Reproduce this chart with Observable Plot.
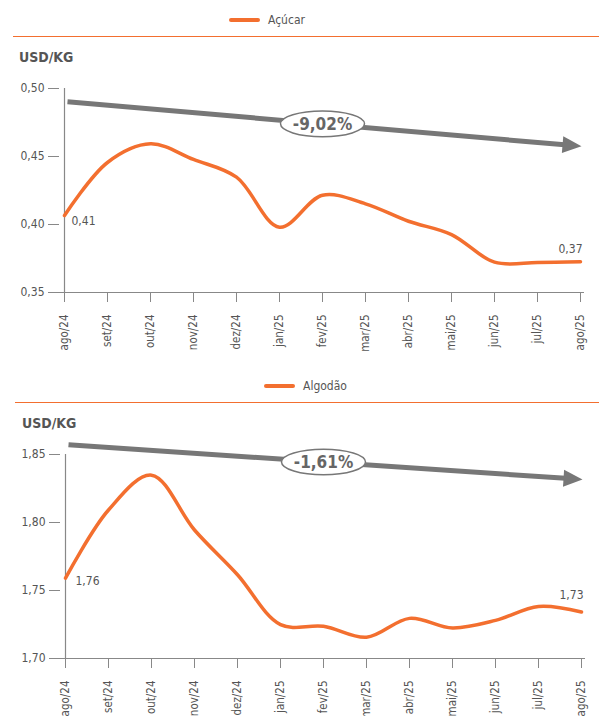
<!DOCTYPE html>
<html><head><meta charset="utf-8">
<script src="https://cdn.jsdelivr.net/npm/d3@7"></script>
<script src="https://cdn.jsdelivr.net/npm/@observablehq/plot@0.6"></script>
<style>
body{margin:0;background:#fff;font-family:"Liberation Sans Narrow","DejaVu Sans Condensed",Roboto,sans-serif;}
.block{position:relative;width:599px;height:366px;}
.legend{position:absolute;top:13px;display:flex;align-items:center;font-size:12px;color:#555;line-height:14px;}
.swatch{width:31px;height:4px;border-radius:2px;background:#F36F2F;margin-right:8px;}
.rule{position:absolute;top:35.5px;right:0;height:1.5px;background:#F36F2F;}
.unit{position:absolute;top:49px;font-size:14px;font-weight:bold;color:#555;line-height:16px;}
.plot{position:absolute;top:75px;left:0;}
</style></head><body>
<div id="root"></div>
<script>
const months = ["ago/24","set/24","out/24","nov/24","dez/24","jan/25","fev/25","mar/25","abr/25","mai/25","jun/25","jul/25","ago/25"];
const acucar = [0.4066,0.4456,0.4593,0.4478,0.4348,0.3980,0.4215,0.4152,0.4024,0.3926,0.3723,0.3721,0.3726];
const algodao = [1.7591,1.8092,1.8348,1.7945,1.7616,1.7249,1.7237,1.7156,1.7295,1.7225,1.7280,1.7383,1.7342];
const yTicksAcucar = [0.35,0.40,0.45,0.50];
const yTicksAlgodao = [1.70,1.75,1.80,1.85];
const trendAcucar = [0.4904,0.4576];
const trendAlgodao = [1.8573,1.8317];
const variacaoAcucar = "-9,02%";
const variacaoAlgodao = "-1,61%";
const seriesNames = ["Açúcar","Algodão"];

const FONT = '"Liberation Sans Narrow","DejaVu Sans Condensed",Roboto,sans-serif';
const ORANGE = "#F36F2F";
const GRAY = "#777";
const fmt = v => v.toFixed(2).replace(".", ",");

const headSymbol = {draw(ctx){ ctx.moveTo(1,0); ctx.lineTo(-18,-8.5); ctx.lineTo(-18,8.5); ctx.closePath(); }};
const ellipseSymbol = {draw(ctx){
  const rx=42, ry=12.8, k=0.5523;
  ctx.moveTo(rx,0);
  ctx.bezierCurveTo(rx,ry*k,rx*k,ry,0,ry);
  ctx.bezierCurveTo(-rx*k,ry,-rx,ry*k,-rx,0);
  ctx.bezierCurveTo(-rx,-ry*k,-rx*k,-ry,0,-ry);
  ctx.bezierCurveTo(rx*k,-ry,rx,-ry*k,rx,0);
  ctx.closePath();
}};

function makeChart(cfg){
  const W=599, H=291, mt=13, mb=74;
  const ticks = cfg.ticks;
  const y0 = ticks[0], y1 = ticks[ticks.length-1];
  const innerH = H-mt-mb, innerW = W-cfg.ml-cfg.mr;
  const pxPerUnit = innerH/(y1-y0);
  const trend = cfg.trend;
  const angle = Math.atan2((trend[0]-trend[1])*pxPerUnit, innerW)*180/Math.PI;
  const data = months.map((m,i)=>({m, v: cfg.values[i]}));
  const last = data.length-1;
  const mid = Math.floor(last/2);
  const tr = [{a: trend[0], b: trend[1]}];
  return Plot.plot({
    width:W, height:H, marginTop:mt, marginBottom:mb, marginLeft:cfg.ml, marginRight:cfg.mr,
    style:{fontFamily:FONT, fontSize:"12px", color:"#555", background:"transparent", overflow:"visible"},
    x:{type:"point", domain:months, padding:0},
    y:{domain:[y0,y1]},
    marks:[
      Plot.ruleY([y0], {stroke:"#888", strokeWidth:1.2}),
      Plot.ruleX([months[0]], {stroke:"#888", strokeWidth:1.2}),
      Plot.axisY({ticks, tickFormat:fmt, tickSize:11, tickPadding:4, stroke:"#888", strokeOpacity:1, label:null, fontSize:12}),
      Plot.axisX({tickRotate:-90, tickSize:10, tickPadding:12, stroke:"#888", strokeOpacity:1, label:null, fontSize:11.5}),
      Plot.line(data, {x:"m", y:"v", curve:"catmull-rom", stroke:ORANGE, strokeWidth:3.5}),
      Plot.text([data[0]], {x:"m", y:"v", text:d=>fmt(d.v), textAnchor:"start", dx:cfg.firstDx, dy:cfg.firstDy, fill:"#555", fontSize:12}),
      Plot.text([data[last]], {x:"m", y:"v", text:d=>fmt(d.v), textAnchor:"end", dx:2, dy:cfg.lastDy, fill:"#555", fontSize:12}),
      Plot.arrow(tr, {x1:()=>months[0], y1:"a", x2:()=>months[last], y2:"b", stroke:GRAY, strokeWidth:5, headLength:0, insetStart:3, insetEnd:16, strokeLinecap:"butt"}),
      Plot.dot(tr, {x:()=>months[last], y:"b", symbol:headSymbol, r:5, fill:GRAY, stroke:null, rotate:angle}),
      Plot.dot(tr, {x:()=>months[mid], y:d=>(d.a+d.b)/2, symbol:ellipseSymbol, r:5, fill:"white", stroke:GRAY, strokeWidth:1.5}),
      Plot.text(tr, {x:()=>months[mid], y:d=>(d.a+d.b)/2, text:()=>cfg.variacao, fontWeight:"bold", fontSize:17, fill:"#666", dy:1})
    ]
  });
}

function block(cfg){
  const div = document.createElement("div");
  div.className = "block";
  div.innerHTML = `<div class="legend" style="left:${cfg.legendLeft}px"><div class="swatch"></div><span>${cfg.name}</span></div>
    <div class="rule" style="left:${cfg.ruleLeft}px"></div>
    <div class="unit" style="left:${cfg.unitLeft}px">USD/KG</div>`;
  const p = makeChart(cfg);
  p.classList.add("plot");
  div.appendChild(p);
  document.getElementById("root").appendChild(div);
}

block({name:seriesNames[0], values:acucar, ticks:yTicksAcucar, trend:trendAcucar, variacao:variacaoAcucar,
  ml:59, mr:15, firstDx:7, firstDy:6, lastDy:-13, legendLeft:229, ruleLeft:13, unitLeft:19});
block({name:seriesNames[1], values:algodao, ticks:yTicksAlgodao, trend:trendAlgodao, variacao:variacaoAlgodao,
  ml:60, mr:14, firstDx:10, firstDy:3, lastDy:-17, legendLeft:264, ruleLeft:15, unitLeft:22});
</script>
</body></html>
